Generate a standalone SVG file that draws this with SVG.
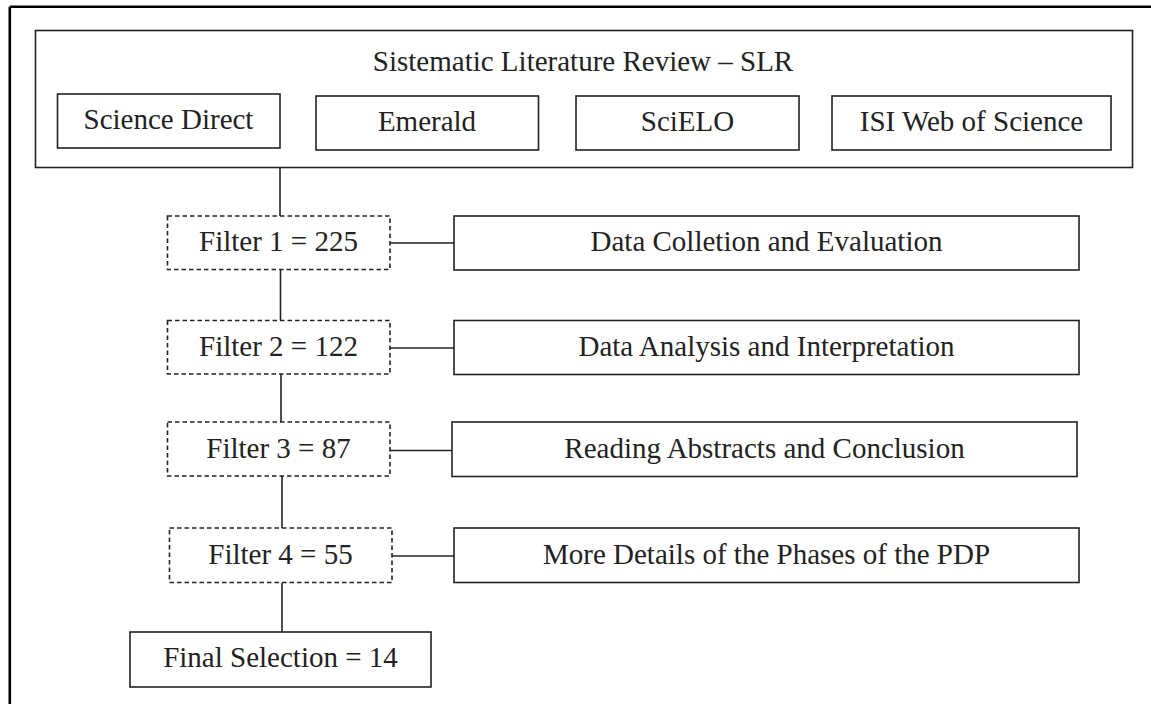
<svg xmlns="http://www.w3.org/2000/svg" width="1151" height="704" viewBox="0 0 1151 704">
<style>
.box{fill:#fff;stroke:#222;stroke-width:1.6}
.dash{fill:#fff;stroke:#222;stroke-width:1.6;stroke-dasharray:4.5 3}
.frame{fill:none;stroke:#000;stroke-width:2.6}
.conn{fill:none;stroke:#222;stroke-width:1.6}
text{font-family:"Liberation Serif","Times New Roman",serif;font-size:29px;fill:#222;text-anchor:middle}
</style>
<rect x="0" y="0" width="1151" height="704" fill="#fff"/>
<g id="frame">
<path class="frame" d="M9.8 6.8 H1151 M9.8 6.8 V704"/>
</g>
<g id="slr">
<rect class="box" x="35.5" y="30.5" width="1097" height="137"/>
<text x="583" y="70.5">Sistematic Literature Review – SLR</text>
</g>
<g id="sciencedirect">
<rect class="box" x="57.5" y="94" width="222.5" height="54"/>
<text x="168.5" y="128.5">Science Direct</text>
</g>
<g id="emerald">
<rect class="box" x="316" y="96" width="222.5" height="54"/>
<text x="427" y="130.5">Emerald</text>
</g>
<g id="scielo">
<rect class="box" x="576" y="96" width="223" height="54"/>
<text x="687.5" y="130.5">SciELO</text>
</g>
<g id="isi">
<rect class="box" x="832" y="96" width="279" height="54"/>
<text x="971.5" y="130.5">ISI Web of Science</text>
</g>
<g id="connectors">
<path class="conn" d="M280 167.5 V216"/>
<path class="conn" d="M280.5 269.5 V320.5"/>
<path class="conn" d="M281 374 V422"/>
<path class="conn" d="M282 476 V528"/>
<path class="conn" d="M282 583 V632"/>
<path class="conn" d="M390 243 H454"/>
<path class="conn" d="M390 348 H454"/>
<path class="conn" d="M390 450.5 H452"/>
<path class="conn" d="M392 556 H454"/>
</g>
<g id="filter1">
<rect class="dash" x="167.5" y="216" width="222.5" height="53.5"/>
<text x="278.5" y="250.7">Filter 1 = 225</text>
</g>
<g id="step1">
<rect class="box" x="454" y="216" width="625" height="54"/>
<text x="766.5" y="251">Data Colletion and Evaluation</text>
</g>
<g id="filter2">
<rect class="dash" x="167.5" y="320.5" width="222.5" height="53.5"/>
<text x="278.5" y="355.5">Filter 2 = 122</text>
</g>
<g id="step2">
<rect class="box" x="454" y="320.5" width="625" height="54"/>
<text x="766.5" y="355.5">Data Analysis and Interpretation</text>
</g>
<g id="filter3">
<rect class="dash" x="167.5" y="422" width="222.5" height="54"/>
<text x="278.5" y="458">Filter 3 = 87</text>
</g>
<g id="step3">
<rect class="box" x="452" y="422" width="625" height="54.5"/>
<text x="764.5" y="458">Reading Abstracts and Conclusion</text>
</g>
<g id="filter4">
<rect class="dash" x="169.5" y="528" width="222.5" height="54.5"/>
<text x="280.5" y="564">Filter 4 = 55</text>
</g>
<g id="step4">
<rect class="box" x="454" y="528" width="625" height="54.5"/>
<text x="766.5" y="564">More Details of the Phases of the PDP</text>
</g>
<g id="final">
<rect class="box" x="130" y="632" width="301" height="55"/>
<text x="280.5" y="667">Final Selection = 14</text>
</g>
</svg>
